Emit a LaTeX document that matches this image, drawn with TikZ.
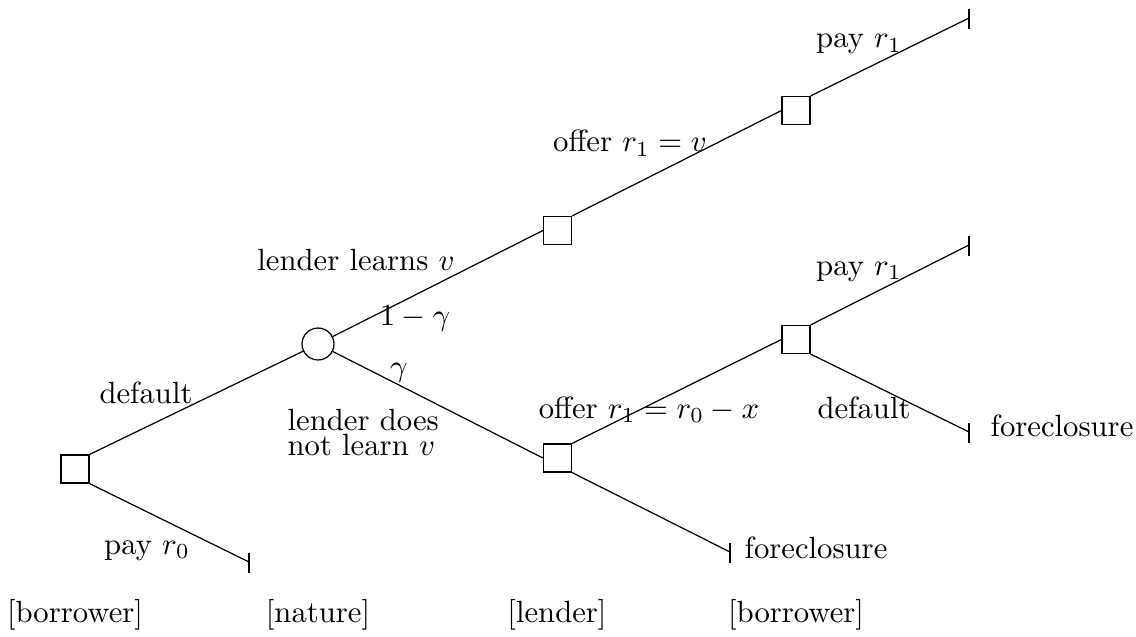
\documentclass[tikz,border=0pt]{standalone}
\usetikzlibrary{positioning}
\begin{document}
\begin{tikzpicture}[x=0.3257pt,y=-0.3257pt,
  dec/.style={draw,rectangle,minimum size=9.1pt,inner sep=0pt,line width=0.4pt},
  chance/.style={draw,circle,minimum size=10.4pt,inner sep=0pt,line width=0.4pt},
  lbl/.style={inner sep=0pt,anchor=base},
  br/.style={line width=0.4pt},
  tick/.style={line width=0.4pt}]
\useasboundingbox (0,0) rectangle (1136,636);
% decision and chance nodes
\node[dec] (root) at (75,469) {};
\node[chance] (nat) at (318,344) {};
\node[dec] (lt) at (557.5,230.5) {};
\node[dec] (lb) at (557.5,458) {};
\node[dec] (bt) at (796,110.5) {};
\node[dec] (bb) at (796,339.5) {};
% terminals
\coordinate (t0) at (249,562);
\coordinate (t1) at (969,18);
\coordinate (t2) at (969,245);
\coordinate (t3) at (969,432);
\coordinate (f1) at (730,552);
% branches
\draw[br] (root.north east) -- (nat);
\draw[br] (root.south east) -- (t0);
\draw[br] (nat) -- (lt.west);
\draw[br] (nat) -- (lb.west);
\draw[br] (lt.north east) -- (bt.west);
\draw[br] (bt.north east) -- (t1);
\draw[br] (lb.north east) -- (bb.west);
\draw[br] (lb.south east) -- (f1);
\draw[br] (bb.north east) -- (t2);
\draw[br] (bb.south east) -- (t3);
% terminal ticks
\foreach \t in {t0,t1,t2,t3,f1}
  \draw[tick] ([yshift=3pt]\t) -- ([yshift=-3.6pt]\t);
% labels
\node[lbl] (ldef) at (146,403) {default};
\node[lbl] (lpay0) at (147,554) {pay $r_0$};
\node[lbl] (llearn) at (356,270) {lender learns $v$};
\node[lbl] (lg1) at (415,325) {$1-\gamma$};
\node[lbl] (lg) at (399,376) {$\gamma$};
\node[inner sep=0pt,anchor=base west,align=left] (lnot) at (287,455) {lender does\\[-4pt]not learn $v$};
\node[lbl] (loffv) at (630,152) {offer $r_1=v$};
\node[lbl] (loffx) at (649,418) {offer $r_1=r_0-x$};
\node[lbl] (lpay1) at (859,48) {pay $r_1$};
\node[lbl] (lpay2) at (859,275) {pay $r_1$};
\node[lbl] (ldef2) at (864,418) {default};
\node[inner sep=0pt,anchor=base west] (lfc1) at (990,436) {foreclosure};
\node[inner sep=0pt,anchor=base west] (lfc2) at (744,558) {foreclosure};
% player labels
\node[lbl] (p1) at (75,622) {[borrower]};
\node[lbl] (p2) at (318,622) {[nature]};
\node[lbl] (p3) at (557,622) {[lender]};
\node[lbl] (p4) at (796,622) {[borrower]};
\end{tikzpicture}
\end{document}
